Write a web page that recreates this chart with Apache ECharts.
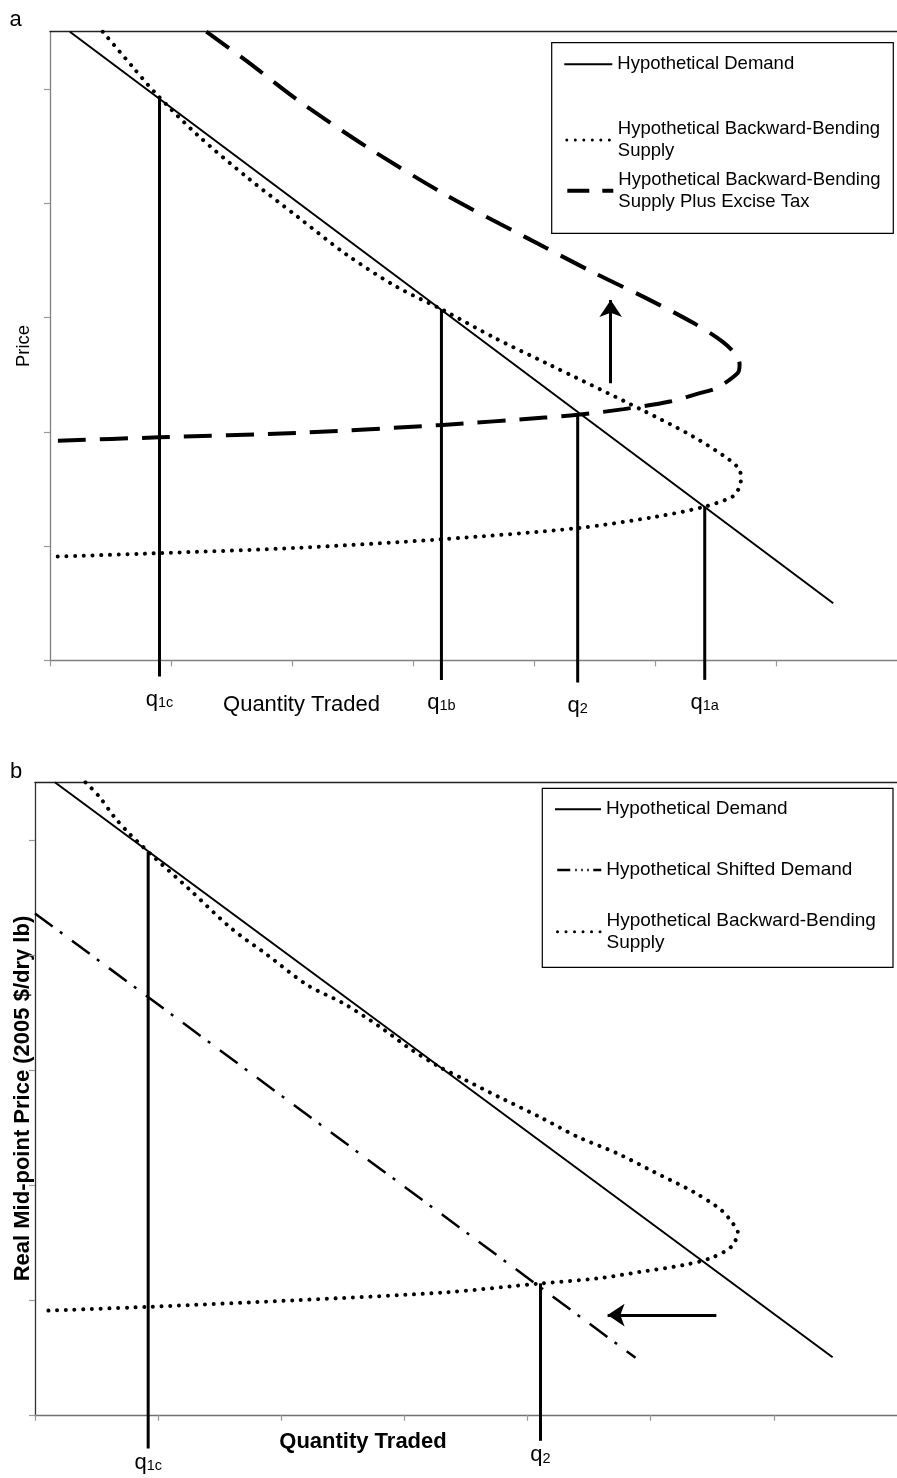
<!DOCTYPE html>
<html>
<head>
<meta charset="utf-8">
<script src="https://cdn.jsdelivr.net/npm/echarts@6/dist/echarts.min.js"></script>
<style>html,body{margin:0;padding:0;background:#fff}#c{width:897px;height:1478px}</style>
</head>
<body>
<div id="c"></div>
<script>
// ---------- data (axis units = one tick interval) ----------
const xTickValues = [0, 1, 2, 3, 4, 5, 6];
const yTickValues = [0, 1, 2, 3, 4, 5];

// Panel a
const demandA = [[0.164, 5.5], [6.473, 0.5]];
const supplyA = [[0.436,5.5],[0.681,5.195],[0.872,4.962],[1.226,4.589],[1.635,4.221],[2.044,3.883],[2.453,3.548],[2.862,3.270],[3.244,3.067],[3.679,2.819],[4.102,2.600],[4.879,2.198],[5.315,1.958],[5.615,1.754],[5.699,1.666],[5.710,1.579],[5.691,1.500],[5.642,1.433],[5.415,1.346],[5.015,1.258],[4.361,1.157],[3.244,1.060],[2.044,0.984],[0.899,0.938],[0.055,0.908]];
const taxSupplyA = [[1.292,5.5],[1.635,5.236],[2.044,4.904],[2.617,4.493],[3.271,4.072],[3.925,3.705],[4.497,3.390],[4.906,3.180],[5.315,2.953],[5.560,2.787],[5.683,2.656],[5.699,2.586],[5.683,2.513],[5.505,2.381],[5.370,2.338],[5.124,2.264],[4.742,2.198],[4.361,2.148],[4.088,2.124],[3.246,2.060],[2.044,1.990],[0.899,1.951],[0,1.920]];
const qLabelsA = ['1c', '1b', '2', '1a'];
const qXA = [0.905, 3.235, 4.361, 5.411];
const qTopA = [4.912, 3.067, 2.148, 1.346];
const qBottomA = [-0.142, -0.171, -0.194, -0.171];
const arrowA = [[4.634, 2.425], [4.634, 3.152]];

// Panel b
const demandB = [[0.161, 5.5], [6.477, 0.5]];
const shiftedDemandB = [[0, 4.36], [4.877, 0.496]];
const supplyB = [[0.410,5.5],[0.523,5.374],[0.643,5.200],[0.764,5.056],[0.978,4.838],[1.246,4.577],[1.594,4.230],[1.889,3.997],[2.211,3.737],[2.506,3.577],[2.800,3.374],[3.041,3.186],[3.282,3.026],[3.470,2.925],[3.765,2.765],[4.086,2.597],[4.408,2.417],[4.729,2.273],[5.024,2.113],[5.346,1.939],[5.573,1.780],[5.667,1.664],[5.707,1.591],[5.654,1.461],[5.480,1.360],[5.265,1.302],[4.917,1.243],[4.568,1.186],[4.113,1.143],[3.336,1.065],[2.130,0.997],[0.924,0.939],[0.054,0.904]];
const qLabelsB = ['1c', '2'];
const qXB = [0.919, 4.105];
const qTopB = [4.893, 1.143];
const qBottomB = [-0.292, -0.226];
const arrowB = [[5.533, 0.867], [4.650, 0.867]];

// ---------- styling ----------
const FONT = '"Liberation Sans", Arial, Helvetica, sans-serif';
const solid = {color: '#000', width: 2};
const dotted = {color: '#000', width: 4, type: [0.01, 8.7], cap: 'round'};
const dashed = {color: '#000', width: 4, type: [28, 14]};
const dashDot = {color: '#000', width: 2.5, type: [22, 9, 3, 12]};

const NAME_D = 'Hypothetical Demand';
const NAME_S = 'Hypothetical Backward-Bending Supply';
const NAME_T = 'Hypothetical Backward-Bending Supply Plus Excise Tax';
const NAME_SD = 'Hypothetical Shifted Demand';

function curve(name, data, xi, yi, ls, smooth) {
  return {type: 'line', name, data, xAxisIndex: xi, yAxisIndex: yi,
    showSymbol: false, symbol: 'none', smooth: smooth || false,
    lineStyle: ls, itemStyle: {color: '#000'}, z: 3, animation: false, silent: true};
}
const qRich = {
  q: {fontFamily: FONT, fontSize: 22, lineHeight: 24, verticalAlign: 'bottom', color: '#000'},
  s: {fontFamily: FONT, fontSize: 14.5, lineHeight: 10, verticalAlign: 'bottom', color: '#000'}
};
function qLines(xs, tops, bottoms, labels, xi, yi, dist) {
  return xs.map((x, i) => ({
    type: 'line', xAxisIndex: xi, yAxisIndex: yi, clip: false,
    symbol: 'circle', symbolSize: 0, showSymbol: true,
    lineStyle: {color: '#000', width: 3}, itemStyle: {color: '#000'},
    data: [[x, tops[i]], {value: [x, bottoms[i]], label: {show: true, position: 'bottom', distance: dist,
      formatter: '{q|q}{s|' + labels[i] + '}', rich: qRich}}],
    silent: true, animation: false, z: 3
  }));
}
function arrow(coords, xi, yi) {
  return {type: 'lines', coordinateSystem: 'cartesian2d', xAxisIndex: xi, yAxisIndex: yi,
    symbol: ['none', 'arrow'], symbolSize: 17,
    lineStyle: {color: '#000', width: 3, opacity: 1, curveness: 0},
    data: [{coords}], animation: false, silent: true, z: 4};
}
function bottomX(gi, name, nameStyle, gap, color) {
  return {type: 'value', gridIndex: gi, min: 0, max: 7, interval: 1, position: 'bottom',
    axisLine: {show: true, onZero: false, lineStyle: {color, width: 1.3}},
    axisTick: {show: true, length: 6, customValues: xTickValues, lineStyle: {color: '#9a9a9a', width: 1.2}},
    axisLabel: {show: false}, splitLine: {show: false},
    name, nameLocation: 'middle', nameGap: gap, nameTextStyle: nameStyle};
}
function topX(gi) {
  return {type: 'value', gridIndex: gi, min: 0, max: 7, position: 'top',
    axisLine: {show: true, onZero: false, lineStyle: {color: '#222', width: 1.3}},
    axisTick: {show: false}, axisLabel: {show: false}, splitLine: {show: false}};
}
function leftY(gi, name, nameStyle, gap, color) {
  return {type: 'value', gridIndex: gi, min: 0, max: 5.5, interval: 1,
    axisLine: {show: true, onZero: false, lineStyle: {color, width: 1.3}},
    axisTick: {show: true, length: 6, customValues: yTickValues, lineStyle: {color: '#9a9a9a', width: 1.2}},
    axisLabel: {show: false}, splitLine: {show: false},
    name, nameLocation: 'middle', nameGap: gap, nameTextStyle: nameStyle};
}
function leg(name, text, left, top, size, lh, width, padTop, iconLine) {
  return {data: [name], left, top, padding: 0, itemWidth: width, itemHeight: 14, itemGap: 0,
    selectedMode: false, formatter: text,
    itemStyle: {color: 'rgba(0,0,0,0)', borderColor: 'rgba(0,0,0,0)', borderWidth: 0, opacity: 0},
    lineStyle: iconLine,
    textStyle: {fontFamily: FONT, fontSize: size, lineHeight: lh, color: '#000', padding: padTop ? [padTop, 0, 0, 0] : 0}};
}
const iconSolid = {color: '#000', width: 2, type: 'solid'};
const iconDotted = {color: '#000', width: 3, type: [0.01, 8.5], cap: 'round', dashOffset: -2};
const iconDashed = {color: '#000', width: 4, type: [22, 13]};
const iconDashDot = {color: '#000', width: 2.5, type: [13, 5, 1.5, 4.5, 1.5, 4.5, 1.5, 4.5]};

const option = {
  animation: false,
  backgroundColor: '#fff',
  textStyle: {fontFamily: FONT},
  title: [
    {text: 'a', left: 9.5, top: 9, padding: 0, textStyle: {fontFamily: FONT, fontSize: 22, fontWeight: 'normal', color: '#000'}},
    {text: 'b', left: 10, top: 761, padding: 0, textStyle: {fontFamily: FONT, fontSize: 22, fontWeight: 'normal', color: '#000'}}
  ],
  grid: [
    {left: 50, top: 31.7, width: 856.1, height: 628.65},
    {left: 35, top: 782.3, width: 870.8, height: 632.5}
  ],
  xAxis: [
    bottomX(0, 'Quantity Traded', {fontFamily: FONT, fontSize: 22, color: '#000', padding: [0, 344, 0, 0]}, 34, '#808080'),
    bottomX(1, 'Quantity Traded', {fontFamily: FONT, fontSize: 22, fontWeight: 'bold', color: '#000', padding: [0, 206, 0, 0]}, 16, '#707070'),
    topX(0),
    topX(1)
  ],
  yAxis: [
    leftY(0, 'Price', {fontFamily: FONT, fontSize: 18.5, color: '#000'}, 17, '#808080'),
    leftY(1, 'Real Mid-point Price (2005 $/dry lb)', {fontFamily: FONT, fontSize: 22, fontWeight: 'bold', color: '#000'}, 1, '#333')
  ],
  legend: [
    leg(NAME_D, 'Hypothetical Demand', 563.3, 53.3, 18.5, 22, 48, 0, iconSolid),
    leg(NAME_S, 'Hypothetical Backward-Bending\nSupply', 563.3, 118, 18.5, 22, 48, 0, iconDotted),
    leg(NAME_T, 'Hypothetical Backward-Bending\nSupply Plus Excise Tax', 563.3, 157.7, 18.5, 22, 48, 22, iconDashed),
    leg(NAME_D, 'Hypothetical Demand', 554, 798.5, 19, 21.5, 46, 0, iconSolid),
    leg(NAME_SD, 'Hypothetical Shifted Demand', 554, 859.3, 19, 21.5, 46, 0, iconDashDot),
    leg(NAME_S, 'Hypothetical Backward-Bending\nSupply', 554, 899.5, 19, 21.5, 46, 21.5, iconDotted)
  ],
  graphic: [
    {type: 'rect', z: 0, shape: {x: 551.7, y: 42.7, width: 341.6, height: 190.6}, style: {fill: '#fff', stroke: '#000', lineWidth: 1.2}},
    {type: 'rect', z: 0, shape: {x: 542.3, y: 788.3, width: 350.7, height: 179}, style: {fill: '#fff', stroke: '#000', lineWidth: 1.2}}
  ],
  series: [
    curve(NAME_D, demandA, 0, 0, solid),
    curve(NAME_S, supplyA, 0, 0, dotted, 0.3),
    curve(NAME_T, taxSupplyA, 0, 0, dashed, 0.3),
    ...qLines(qXA, qTopA, qBottomA, qLabelsA, 0, 0, 10),
    arrow(arrowA, 0, 0),
    curve(NAME_D, demandB, 1, 1, solid),
    curve(NAME_SD, shiftedDemandB, 1, 1, dashDot),
    curve(NAME_S, supplyB, 1, 1, dotted, 0.3),
    ...qLines(qXB, qTopB, qBottomB, qLabelsB, 1, 1, 1.5),
    arrow(arrowB, 1, 1)
  ]
};
const chart = echarts.init(document.getElementById('c'), null, {renderer: 'canvas', width: 897, height: 1478});
chart.setOption(option);
</script>
</body>
</html>
